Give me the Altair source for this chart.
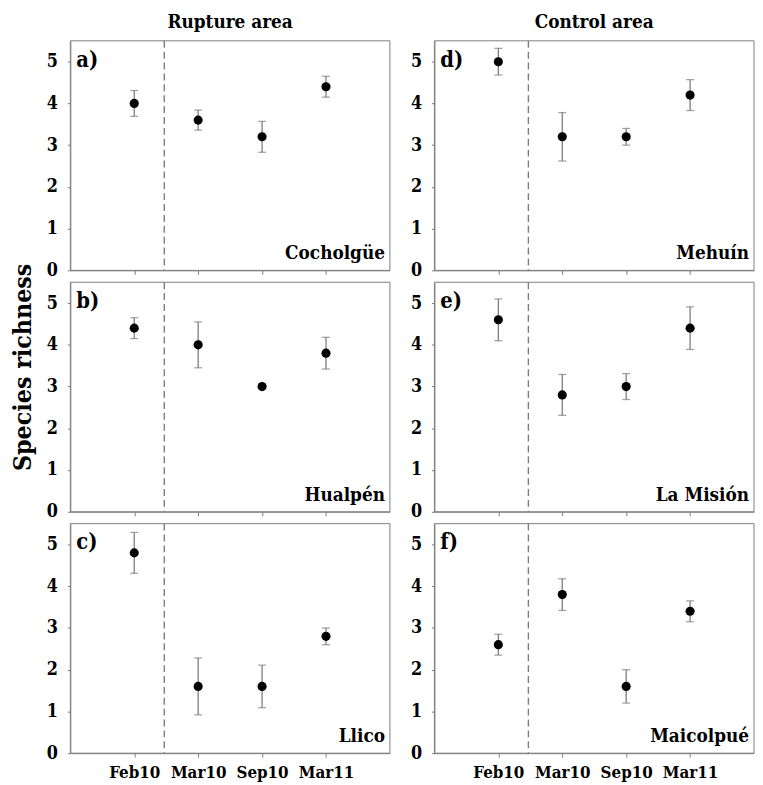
import altair as alt
import pandas as pd

# ---- data ----
dates = ["Feb10", "Mar10", "Sep10", "Mar11"]
date_pos = [1, 2, 3, 4]
quake_pos = [1.47]          # earthquake (Feb 2010) separator
areas = ["Rupture area", "Control area"]
letters = ["a)", "b)", "c)", "d)", "e)", "f)"]
sites = ["Cocholgüe", "Hualpén", "Llico", "Mehuín", "La Misión", "Maicolpué"]

mean_a = [4.0, 3.6, 3.2, 4.4]
se_a = [0.31, 0.24, 0.37, 0.25]
mean_b = [4.4, 4.0, 3.0, 3.8]
se_b = [0.25, 0.55, 0.0, 0.38]
mean_c = [4.8, 1.6, 1.6, 2.8]
se_c = [0.49, 0.68, 0.51, 0.20]
mean_d = [5.0, 3.2, 3.2, 4.2]
se_d = [0.32, 0.58, 0.20, 0.37]
mean_e = [4.6, 2.8, 3.0, 4.4]
se_e = [0.50, 0.49, 0.31, 0.51]
mean_f = [2.6, 3.8, 1.6, 3.4]
se_f = [0.25, 0.38, 0.40, 0.25]

y_title = "Species richness"

FONT = "DejaVu Serif Condensed, DejaVu Serif"
W, H = 323, 232
GRAY = "#7d7d7d"
label_expr = "[" + ",".join(f"'{d}'" for d in dates) + "][datum.value - 1]"


def panel(i, mean, se):
    df = pd.DataFrame({
        "date": dates, "pos": date_pos, "mean": mean,
        "lo": [m - s for m, s in zip(mean, se)],
        "hi": [m + s for m, s in zip(mean, se)],
    })
    bottom = i in (2, 5)
    x_axis = alt.Axis(values=date_pos, labelExpr=label_expr, labels=bottom, title=None,
                      grid=False, tickSize=4, tickColor=GRAY, domainColor=GRAY,
                      labelFont=FONT, labelFontSize=17, labelFontWeight="bold",
                      labelColor="black", labelPadding=8)
    y_axis = alt.Axis(values=[0, 1, 2, 3, 4, 5], title=None, grid=False, tickSize=3,
                      tickColor=GRAY, domainColor=GRAY, labelFont=FONT, labelFontSize=18,
                      labelFontWeight="bold", labelColor="black", labelPadding=10)
    xs = alt.Scale(domain=[0, 5], nice=False, zero=False)
    ys = alt.Scale(domain=[0, 5.5], nice=False)

    base = alt.Chart(df)
    x = alt.X("pos:Q", scale=xs, axis=x_axis)

    frame = alt.Chart(pd.DataFrame({"k": [0]})).mark_rect(
        fillOpacity=0, stroke=GRAY, strokeWidth=1
    ).encode(x=alt.value(0), x2=alt.value(W), y=alt.value(0), y2=alt.value(H))

    quake = alt.Chart(pd.DataFrame({"q": quake_pos})).mark_rule(
        color=GRAY, strokeDash=[7, 4], strokeWidth=1.4
    ).encode(x=alt.X("q:Q", scale=xs, axis=x_axis))

    bars = base.mark_rule(color=GRAY, strokeWidth=1.3).encode(
        x=x, y=alt.Y("lo:Q", scale=ys, axis=y_axis), y2="hi:Q")
    cap_lo = base.mark_tick(orient="horizontal", size=8, thickness=1.3, color=GRAY).encode(
        x=x, y=alt.Y("lo:Q", scale=ys, axis=y_axis))
    cap_hi = base.mark_tick(orient="horizontal", size=8, thickness=1.3, color=GRAY).encode(
        x=x, y=alt.Y("hi:Q", scale=ys, axis=y_axis))
    pts = base.mark_circle(size=85, color="black", opacity=1).encode(
        x=x, y=alt.Y("mean:Q", scale=ys, axis=y_axis))

    lab = alt.Chart(pd.DataFrame({"t": [letters[i]]})).mark_text(
        font=FONT, fontSize=22, fontWeight="bold", align="left", baseline="top", color="black"
    ).encode(text="t:N", x=alt.value(6), y=alt.value(9))
    site = alt.Chart(pd.DataFrame({"t": [sites[i]]})).mark_text(
        font=FONT, fontSize=19, fontWeight="bold", align="right",
        baseline="alphabetic", color="black"
    ).encode(text="t:N", x=alt.value(W - 5), y=alt.value(H - 11))

    layers = [frame, quake, bars, cap_lo, cap_hi, pts, lab, site]
    if i in (0, 3):
        head = alt.Chart(pd.DataFrame({"t": [areas[0 if i == 0 else 1]]})).mark_text(
            font=FONT, fontSize=19, fontWeight="bold", align="center",
            baseline="top", color="black"
        ).encode(text="t:N", x=alt.value(W / 2), y=alt.value(-28))
        layers.append(head)
    if i == 1:
        ttl = alt.Chart(pd.DataFrame({"t": [y_title]})).mark_text(
            angle=270, font=FONT, fontSize=25, fontWeight="bold", align="center",
            baseline="middle", color="black"
        ).encode(text="t:N", x=alt.value(-48), y=alt.value(86))
        layers.append(ttl)
    return alt.layer(*layers).properties(width=W, height=H)


pa = panel(0, mean_a, se_a)
pb = panel(1, mean_b, se_b)
pc = panel(2, mean_c, se_c)
pd_ = panel(3, mean_d, se_d)
pe = panel(4, mean_e, se_e)
pf = panel(5, mean_f, se_f)

left = alt.vconcat(pa, pb, pc, spacing=12, bounds="flush")
right = alt.vconcat(pd_, pe, pf, spacing=12, bounds="flush")

chart = alt.hconcat(left, right, spacing=19).properties(
    padding={"left": 2, "top": 1, "right": 0, "bottom": 2}
).configure_view(stroke=None)

chart.save("out.html", embed_options={"renderer": "svg", "actions": False})
